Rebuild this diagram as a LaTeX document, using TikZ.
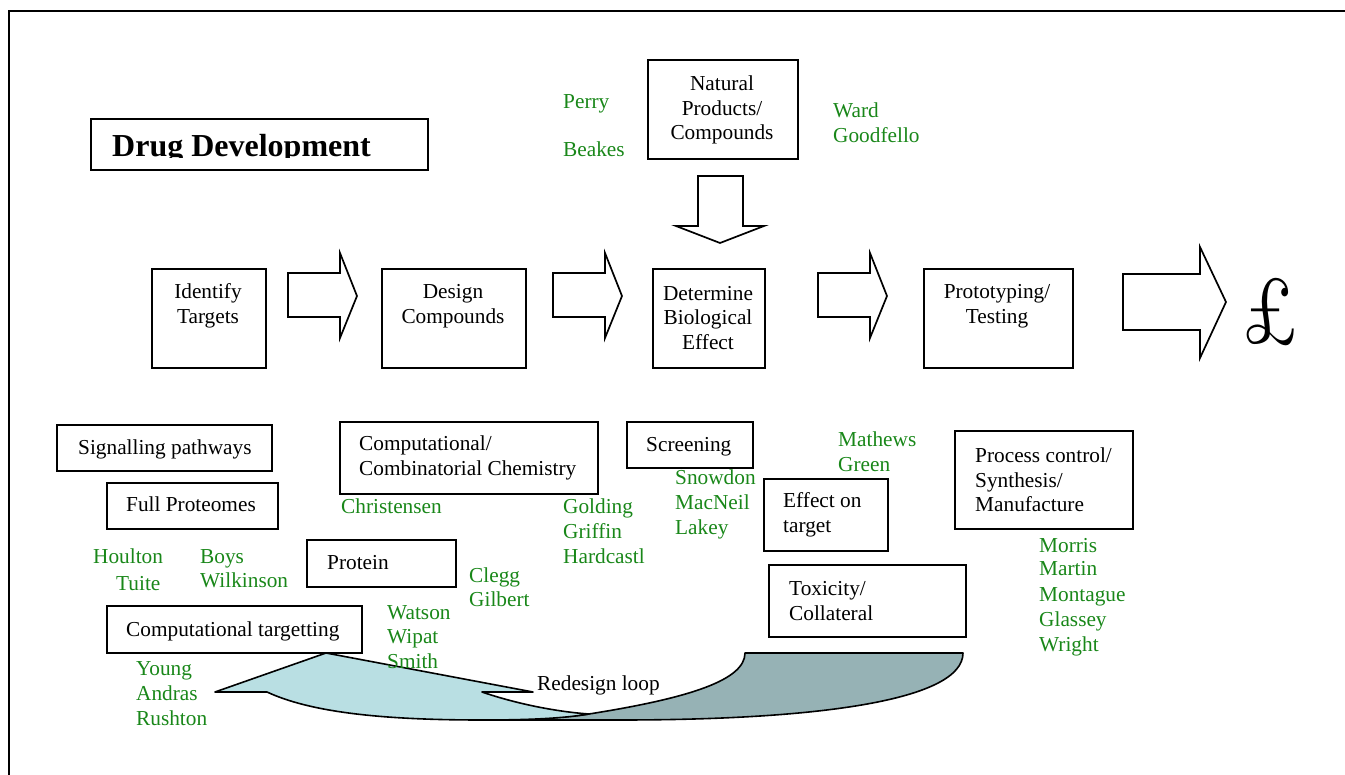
\documentclass[tikz,border=0pt]{standalone}
\usepackage{fontspec}
\newfontfamily\tnr{Liberation Serif}
\newfontfamily\lmten{lmroman10-regular}[Extension=.otf]
\definecolor{nmc}{RGB}{25,135,25}
\definecolor{lbl}{RGB}{185,223,227}
\definecolor{dbl}{RGB}{150,178,181}
\tikzset{
 box/.style={draw=black, line width=1.7pt, fill=white, inner sep=0pt, anchor=north west},
 txt/.style={font=\tnr\fontsize{21.3}{24.5}\selectfont, inner sep=0pt, text=black},
 nm/.style={font=\tnr\fontsize{21.3}{24.5}\selectfont, inner sep=0pt, text=nmc, anchor=base west},
 blk/.style={draw=black, line width=1.7pt, fill=white, line join=miter},
 loopd/.style={draw=black, line width=1.6pt, fill=dbl, line join=round},
 loopl/.style={draw=black, line width=1.6pt, fill=lbl, line join=round},
}
\begin{document}
\begin{tikzpicture}[x=1pt,y=-1pt]
\useasboundingbox (0,0) rectangle (1345,775);
% frame
\draw[line width=1.6pt] (9,775) -- (9,11) -- (1345,11);

% title
\node[box, minimum width=337pt, minimum height=51pt] (ttlbox) at (90,118) {};
\begin{scope}
\clip (90,118) rectangle (427,157.5);
\node[anchor=base west, inner sep=0pt, font=\tnr\bfseries\fontsize{32}{38}\selectfont] (ttl) at (112,157) {Drug Development};
\end{scope}

% natural products
\node[box, minimum width=150pt, minimum height=99pt] (nat) at (647,59) {};
\node[txt, align=center] (natT) at (722,110) {Natural\\Products/\\Compounds};
\node[nm] (perry) at (563,109) {Perry};
\node[nm] (beakes) at (563,157) {Beakes};
\node[nm] (ward) at (833,118) {Ward};
\node[nm] (goodf) at (833,143) {Goodfello};

% down arrow
\draw[blk] (698,176) -- (743,176) -- (743,226) -- (764,226) -- (720,243) -- (676,226) -- (698,226) -- cycle;

% main row
\node[box, minimum width=114pt, minimum height=99pt] (idt) at (151,268) {};
\node[txt, align=center] (idtT) at (208,306) {Identify\\Targets};
\node[box, minimum width=144pt, minimum height=99pt] (des) at (381,268) {};
\node[txt, align=center] (desT) at (453,306) {Design\\Compounds};
\node[box, minimum width=112pt, minimum height=99pt] (det) at (652,268) {};
\node[txt, align=center] (detT) at (708,318) {Determine\\Biological\\Effect};
\node[box, minimum width=149pt, minimum height=99pt] (pro) at (923,268) {};
\node[txt, align=center] (proT) at (997,306) {Prototyping/\\Testing};

\draw[blk] (288,273) -- (340,273) -- (340,253) -- (357,296) -- (340,338) -- (340,317) -- (288,317) -- cycle;
\draw[blk] (553,273) -- (605,273) -- (605,253) -- (622,296) -- (605,338) -- (605,317) -- (553,317) -- cycle;
\draw[blk] (818,273) -- (870,273) -- (870,253) -- (887,296) -- (870,338) -- (870,317) -- (818,317) -- cycle;
\draw[blk] (1123,274) -- (1200,274) -- (1200,247) -- (1226,302) -- (1200,358) -- (1200,330) -- (1123,330) -- cycle;
\node[inner sep=0pt, xscale=0.8, font=\lmten\fontsize{94}{94}\selectfont] (gbp) at (1271,312) {\pounds};

% redesign loop
\draw[loopd] (745,653) -- (963,653) .. controls (963,700) and (820,720) .. (620,720) -- (482,720)
  .. controls (530,720) and (570,717) .. (589,714) .. controls (690,698) and (745,680) .. cycle;
\draw[loopl] (215,692) -- (326,653) -- (533,692) -- (482,692) .. controls (520,705) and (560,712) .. (589,714)
  .. controls (560,719) and (520,720) .. (482,720) .. controls (380,720) and (310,712) .. (267,692) -- cycle;

% lower boxes
\node[box, minimum width=215pt, minimum height=46pt] (sig) at (56,424) {};
\node[txt, anchor=base west] (sigT) at (78,455) {Signalling pathways};
\node[box, minimum width=171pt, minimum height=46pt] (fp) at (106,482) {};
\node[txt, anchor=base west] (fpT) at (126,512) {Full Proteomes};
\node[box, minimum width=258pt, minimum height=72pt] (ccc) at (339,421) {};
\node[txt, anchor=west, align=left] (cccT) at (359,458) {Computational/\\Combinatorial Chemistry};
\node[box, minimum width=126pt, minimum height=46pt] (scr) at (626,421) {};
\node[txt, anchor=base west] (scrT) at (646,452) {Screening};
\node[box, minimum width=124pt, minimum height=72pt] (eot) at (763,478) {};
\node[txt, anchor=west, align=left] (eotT) at (783,515) {Effect on\\target};
\node[box, minimum width=178pt, minimum height=98pt] (pcs) at (954,430) {};
\node[txt, anchor=west, align=left] (pcsT) at (975,480) {Process control/\\Synthesis/\\Manufacture};
\node[box, minimum width=197pt, minimum height=72pt] (tox) at (768,564) {};
\node[txt, anchor=west, align=left] (toxT) at (789,601) {Toxicity/\\Collateral};
\node[box, minimum width=149pt, minimum height=47pt] (prot) at (306,539) {};
\node[txt, anchor=base west] (protT) at (327,569) {Protein};
\node[box, minimum width=255pt, minimum height=47pt] (ct) at (106,605) {};
\node[txt, anchor=base west] (ctT) at (126,636) {Computational targetting};
\node[txt, anchor=base west] (rdl) at (537,690) {Redesign loop};

% names
\node[nm] (chr) at (341,514) {Christensen};
\node[nm] (gol) at (563,514) {Golding};
\node[nm] (gri) at (563,538) {Griffin};
\node[nm] (har) at (563,563) {Hardcastl};
\node[nm] (sno) at (675,485) {Snowdon};
\node[nm] (mac) at (675,510) {MacNeil};
\node[nm] (lak) at (675,535) {Lakey};
\node[nm] (mat) at (838,447) {Mathews};
\node[nm] (gre) at (838,472) {Green};
\node[nm] (mor) at (1039,552) {Morris};
\node[nm] (mar) at (1039,576) {Martin};
\node[nm] (mon) at (1039,601) {Montague};
\node[nm] (gla) at (1039,626) {Glassey};
\node[nm] (wri) at (1039,651) {Wright};
\node[nm] (hou) at (93,563) {Houlton};
\node[nm] (tui) at (116,590) {Tuite};
\node[nm] (boy) at (200,563) {Boys};
\node[nm] (wil) at (200,587) {Wilkinson};
\node[nm] (cle) at (469,582) {Clegg};
\node[nm] (gil) at (469,606) {Gilbert};
\node[nm] (wat) at (387,619) {Watson};
\node[nm] (wip) at (387,643) {Wipat};
\node[nm] (smi) at (387,668) {Smith};
\node[nm] (you) at (136,675) {Young};
\node[nm] (and) at (136,700) {Andras};
\node[nm] (rus) at (136,725) {Rushton};
\end{tikzpicture}
\end{document}
